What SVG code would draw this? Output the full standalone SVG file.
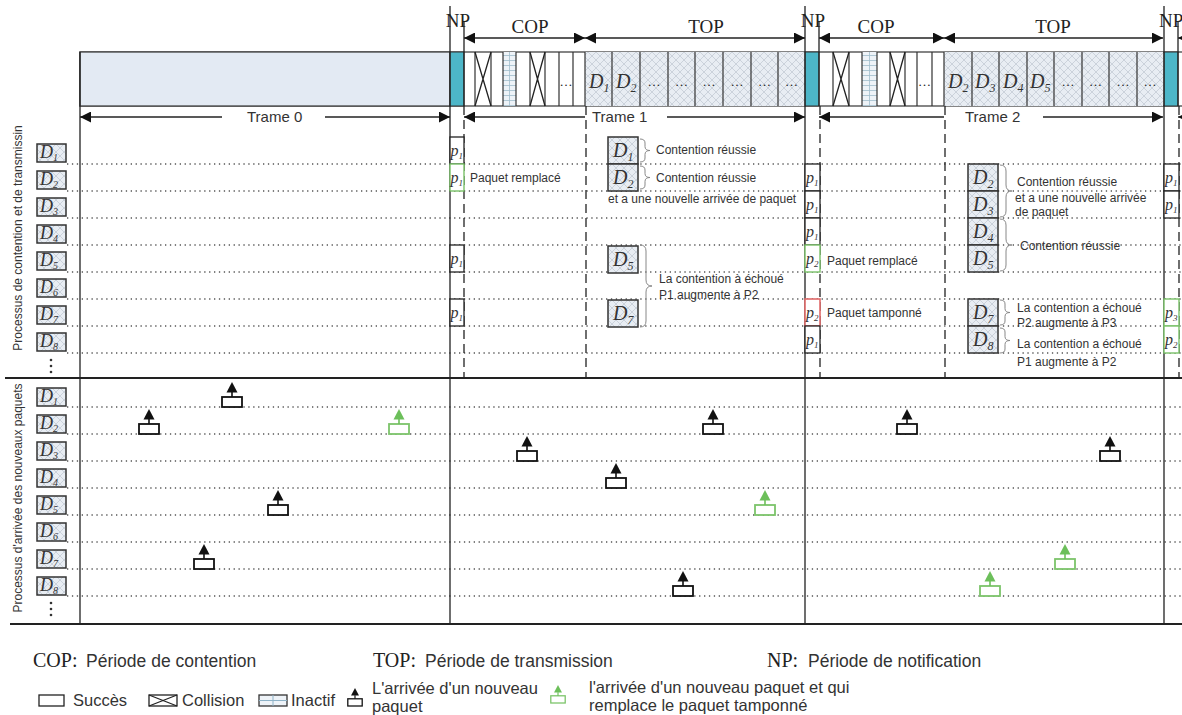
<svg xmlns="http://www.w3.org/2000/svg" xmlns:xlink="http://www.w3.org/1999/xlink" width="1182" height="715" viewBox="0 0 1182 715">
<style>
.dot{stroke:#555;stroke-width:1.3;stroke-dasharray:1.3 3.6;fill:none}
.t{font-family:"Liberation Sans",Arial,sans-serif;font-size:12px;fill:#333}
.lg{font-family:"Liberation Sans",Arial,sans-serif;fill:#333}
.s{font-family:"Liberation Serif","Times New Roman",serif;fill:#222}
.di{font-family:"Liberation Serif","Times New Roman",serif;font-style:italic;fill:#333}
.ln{stroke:#222;stroke-width:1.3;fill:none}
.dv{stroke:#333;stroke-width:1.2}
.dash{stroke:#222;stroke-width:1.3;stroke-dasharray:9 5;fill:none}
.db{fill:url(#xh);stroke:#333;stroke-width:1.5}
.pb{fill:#fff;stroke:#222;stroke-width:1.3}
.pg{fill:#fff;stroke:#79c168;stroke-width:1.4}
.pr{fill:#fff;stroke:#e06a6a;stroke-width:1.6}
.br{fill:none;stroke:#888;stroke-width:1}
.np{fill:#4db6c8;stroke:#333;stroke-width:1}
</style>
<defs>
<pattern id="xh" width="8" height="8" patternUnits="userSpaceOnUse"><rect width="8" height="8" fill="#e8edf3"/><path d="M0 0L8 8M8 0L0 8" stroke="#c4cbd4" stroke-width="0.8"/></pattern>
<pattern id="grid" width="14" height="5" patternUnits="userSpaceOnUse"><rect width="14" height="5" fill="#eef3f8"/><path d="M0 0.5H14" stroke="#9fbccc" stroke-width="0.8"/></pattern>
<marker id="ah" viewBox="0 0 10 10" refX="10" refY="5" markerWidth="11" markerHeight="11" markerUnits="userSpaceOnUse" orient="auto-start-reverse"><path d="M0 0L10 5L0 10z" fill="#111"/></marker>
<g id="ia"><rect x="-10" y="-10" width="20" height="10" fill="#fff" stroke="#111" stroke-width="1.8"/><path d="M0 -10V-15" stroke="#111" stroke-width="1.6"/><path d="M0 -25L5.5 -14.5H-5.5Z" fill="#111"/></g>
<g id="ig"><rect x="-10" y="-10" width="20" height="10" fill="#fff" stroke="#7cc46a" stroke-width="1.8"/><path d="M0 -10V-15" stroke="#6cbf5a" stroke-width="1.6"/><path d="M0 -25L5.5 -14.5H-5.5Z" fill="#6cbf5a"/></g>
</defs>

<rect width="1182" height="715" fill="#fff"/>

<!-- dotted row lines -->
<g id="rows">
<path class="dot" d="M67 164H1182M67 191H1182M67 218H1182M67 245H1182M67 272H1182M67 299H1182M67 326H1182M67 353H1182"/>
<path class="dot" d="M67 407H1182M67 434H1182M67 461H1182M67 488H1182M67 515H1182M67 542H1182M67 569H1182M67 596H1182"/>
</g>

<!-- top bar -->
<g id="bar">
<rect x="80" y="52" width="1110" height="54" fill="#fff" stroke="#444" stroke-width="1.3"/>
<rect x="80" y="52" width="370" height="54" fill="#e3eaf3" stroke="#444" stroke-width="1.3"/>
<rect x="585" y="52" width="220" height="54" fill="url(#xh)"/>
<rect x="944" y="52" width="219" height="54" fill="url(#xh)"/>
<rect x="503" y="52" width="13" height="54" fill="url(#grid)"/>
<rect x="862" y="52" width="15" height="54" fill="url(#grid)"/>
<path d="M509.5 52V106M869.5 52V106" stroke="#9fbccc" stroke-width="0.8"/>
<rect class="np" x="450" y="52" width="14" height="54"/>
<rect class="np" x="805" y="52" width="14" height="54"/>
<rect class="np" x="1164" y="52" width="14" height="54"/>
<path class="dv" d="M475 52V106M491 52V106M503 52V106M516 52V106M530 52V106M545 52V106M559 52V106M573 52V106M585 52V106"/>
<path class="dv" d="M833 52V106M849 52V106M862 52V106M877 52V106M890 52V106M905 52V106M917 52V106M932 52V106M944 52V106"/>
<path class="dv" d="M612 52V106M640 52V106M668 52V106M695 52V106M723 52V106M751 52V106M778 52V106"/>
<path class="dv" d="M972 52V106M999 52V106M1027 52V106M1054 52V106M1082 52V106M1109 52V106M1137 52V106"/>
<path class="ln" d="M475 52L491 106M491 52L475 106M530 52L545 106M545 52L530 106M833 52L849 106M849 52L833 106M890 52L905 106M905 52L890 106"/>
<g class="s" font-size="13" text-anchor="middle">
<text x="566" y="86">…</text><text x="924.5" y="86">…</text>
<text x="654" y="86">…</text><text x="681.5" y="86">…</text><text x="709" y="86">…</text><text x="737" y="86">…</text><text x="764.5" y="86">…</text><text x="791.5" y="86">…</text>
<text x="1068" y="86">…</text><text x="1095.5" y="86">…</text><text x="1123" y="86">…</text><text x="1150" y="86">…</text>
</g>
<g class="di" font-size="20">
<text x="589" y="88">D<tspan font-size="12" dy="4">1</tspan></text>
<text x="616" y="88">D<tspan font-size="12" dy="4">2</tspan></text>
<text x="948" y="88">D<tspan font-size="12" dy="4">2</tspan></text>
<text x="975" y="88">D<tspan font-size="12" dy="4">3</tspan></text>
<text x="1003" y="88">D<tspan font-size="12" dy="4">4</tspan></text>
<text x="1030" y="88">D<tspan font-size="12" dy="4">5</tspan></text>
</g>
</g>

<!-- period labels and arrows -->
<g id="periods">
<g class="s" font-size="19">
<text x="458" y="27" text-anchor="middle">NP</text>
<text x="813" y="27" text-anchor="middle">NP</text>
<text x="1159" y="27">NP</text>
<text x="530" y="33" text-anchor="middle">COP</text>
<text x="706" y="33" text-anchor="middle">TOP</text>
<text x="876" y="33" text-anchor="middle">COP</text>
<text x="1053" y="33" text-anchor="middle">TOP</text>
</g>
<g class="ln" marker-start="url(#ah)" marker-end="url(#ah)">
<path d="M464 38H585"/><path d="M585 38H805"/><path d="M819 38H944"/><path d="M944 38H1163"/>
</g>
<path class="ln" d="M1195 38H1178" marker-end="url(#ah)"/>
<g class="lg" font-size="15" fill="#222">
<text x="247" y="122">Trame 0</text>
<text x="592" y="122">Trame 1</text>
<text x="965" y="122">Trame 2</text>
</g>
<path class="ln" d="M222 117H80" marker-end="url(#ah)"/>
<path class="ln" d="M325 117H450" marker-end="url(#ah)"/>
<path class="ln" d="M585 117H464" marker-end="url(#ah)"/>
<path class="ln" d="M667 117H805" marker-end="url(#ah)"/>
<path class="ln" d="M944 117H819" marker-end="url(#ah)"/>
<path class="ln" d="M1043 117H1163" marker-end="url(#ah)"/>
<path class="ln" d="M1195 117H1178" marker-end="url(#ah)"/>
</g>

<!-- frame lines -->
<g id="frames">
<path class="ln" d="M80 52V624M450 6V624M805 6V624M1164 6V624"/>
<path class="ln" d="M464 22V106M819 22V106M1178 22V106"/>
<path class="dash" d="M464 106V378M820 106V378M1179 106V378M586 106V378M945 106V378"/>
<path d="M5 378H1182" stroke="#222" stroke-width="2"/>
<path d="M10 624H1182" stroke="#222" stroke-width="2"/>
</g>

<!-- side labels -->
<g id="side" class="t">
<text transform="translate(22 238) rotate(-90)" text-anchor="middle">Processus de contention et de transmissin</text>
<text transform="translate(22 498) rotate(-90)" text-anchor="middle">Processus d'arrivée des nouveaux paquets</text>
</g>

<!-- device labels -->
<g id="devices">
<g class="db">
<rect x="37" y="144" width="29" height="18"/><rect x="37" y="171" width="29" height="18"/><rect x="37" y="198" width="29" height="18"/><rect x="37" y="225" width="29" height="18"/>
<rect x="37" y="252" width="29" height="18"/><rect x="37" y="279" width="29" height="18"/><rect x="37" y="306" width="29" height="18"/><rect x="37" y="333" width="29" height="18"/>
<rect x="37" y="388" width="29" height="18"/><rect x="37" y="415" width="29" height="18"/><rect x="37" y="442" width="29" height="18"/><rect x="37" y="469" width="29" height="18"/>
<rect x="37" y="496" width="29" height="18"/><rect x="37" y="523" width="29" height="18"/><rect x="37" y="550" width="29" height="18"/><rect x="37" y="577" width="29" height="18"/>
</g>
<g class="di" font-size="18">
<text x="40" y="158">D<tspan font-size="10" dy="3">1</tspan></text>
<text x="40" y="185">D<tspan font-size="10" dy="3">2</tspan></text>
<text x="40" y="212">D<tspan font-size="10" dy="3">3</tspan></text>
<text x="40" y="239">D<tspan font-size="10" dy="3">4</tspan></text>
<text x="40" y="266">D<tspan font-size="10" dy="3">5</tspan></text>
<text x="40" y="293">D<tspan font-size="10" dy="3">6</tspan></text>
<text x="40" y="320">D<tspan font-size="10" dy="3">7</tspan></text>
<text x="40" y="347">D<tspan font-size="10" dy="3">8</tspan></text>
<text x="40" y="402">D<tspan font-size="10" dy="3">1</tspan></text>
<text x="40" y="429">D<tspan font-size="10" dy="3">2</tspan></text>
<text x="40" y="456">D<tspan font-size="10" dy="3">3</tspan></text>
<text x="40" y="483">D<tspan font-size="10" dy="3">4</tspan></text>
<text x="40" y="510">D<tspan font-size="10" dy="3">5</tspan></text>
<text x="40" y="537">D<tspan font-size="10" dy="3">6</tspan></text>
<text x="40" y="564">D<tspan font-size="10" dy="3">7</tspan></text>
<text x="40" y="591">D<tspan font-size="10" dy="3">8</tspan></text>
</g>
<g fill="#333"><circle cx="51" cy="360" r="1.3"/><circle cx="51" cy="366" r="1.3"/><circle cx="51" cy="372" r="1.3"/><circle cx="51" cy="603" r="1.3"/><circle cx="51" cy="609" r="1.3"/><circle cx="51" cy="615" r="1.3"/></g>
</g>

<!-- NP priority boxes -->
<g id="np1">
<rect class="pb" x="450" y="137" width="14" height="27"/>
<rect class="pg" x="450" y="164" width="14" height="27"/>
<rect class="pb" x="450" y="245" width="14" height="27"/>
<rect class="pb" x="450" y="299" width="14" height="27"/>
<g class="di" font-size="16"><text x="450.5" y="156">p<tspan font-size="9" dy="3">1</tspan></text><text x="450.5" y="183">p<tspan font-size="9" dy="3">1</tspan></text><text x="450.5" y="264">p<tspan font-size="9" dy="3">1</tspan></text><text x="450.5" y="318">p<tspan font-size="9" dy="3">1</tspan></text></g>
<text class="t" x="470" y="182">Paquet remplacé</text>
</g>
<g id="np2">
<rect class="pb" x="805" y="164" width="15" height="27"/>
<rect class="pb" x="805" y="191" width="15" height="27"/>
<rect class="pb" x="805" y="218" width="15" height="27"/>
<rect class="pg" x="805" y="245" width="15" height="27"/>
<rect class="pr" x="805" y="299" width="15" height="27"/>
<rect class="pb" x="805" y="326" width="15" height="27"/>
<g class="di" font-size="16"><text x="806" y="183">p<tspan font-size="9" dy="3">1</tspan></text><text x="806" y="210">p<tspan font-size="9" dy="3">1</tspan></text><text x="806" y="237">p<tspan font-size="9" dy="3">1</tspan></text><text x="806" y="264">p<tspan font-size="9" dy="3">2</tspan></text><text x="806" y="318">p<tspan font-size="9" dy="3">2</tspan></text><text x="806" y="345">p<tspan font-size="9" dy="3">1</tspan></text></g>
<text class="t" x="827" y="265">Paquet remplacé</text>
<text class="t" x="827" y="317">Paquet tamponné</text>
</g>
<g id="np3">
<rect class="pb" x="1164" y="164" width="15" height="27"/>
<rect class="pb" x="1164" y="191" width="15" height="27"/>
<rect class="pg" x="1164" y="299" width="15" height="27"/>
<rect class="pg" x="1164" y="326" width="15" height="27"/>
<g class="di" font-size="16"><text x="1165" y="183">p<tspan font-size="9" dy="3">1</tspan></text><text x="1165" y="210">p<tspan font-size="9" dy="3">1</tspan></text><text x="1165" y="318">p<tspan font-size="9" dy="3">3</tspan></text><text x="1165" y="345">p<tspan font-size="9" dy="3">2</tspan></text></g>
</g>

<!-- TOP frame 1 -->
<g id="top1">
<rect class="db" x="608" y="137" width="30" height="27"/>
<rect class="db" x="608" y="164" width="30" height="27"/>
<rect class="db" x="608" y="246" width="30" height="27"/>
<rect class="db" x="608" y="300" width="30" height="27"/>
<g class="di" font-size="20"><text x="613" y="157">D<tspan font-size="12" dy="4">1</tspan></text><text x="613" y="184">D<tspan font-size="12" dy="4">2</tspan></text><text x="613" y="266">D<tspan font-size="12" dy="4">5</tspan></text><text x="613" y="320">D<tspan font-size="12" dy="4">7</tspan></text></g>
<path class="br" d="M640 139Q645 139 645 143L645 146.5Q645 150.5 650 150.5Q645 150.5 645 154.5L645 158Q645 162 640 162"/>
<path class="br" d="M640 166Q645 166 645 170L645 173.5Q645 177.5 650 177.5Q645 177.5 645 181.5L645 185Q645 189 640 189"/>
<path class="br" d="M640 245Q646 245 646 251L646 280Q646 286 652 286Q646 286 646 292L646 321Q646 327 640 327"/>
<g class="t">
<text x="656" y="154">Contention réussie</text>
<text x="656" y="182">Contention réussie</text>
<text x="608" y="203">et a une nouvelle arrivée de paquet</text>
<text x="659" y="283">La contention à échoué</text>
<text x="659" y="299">P1 augmente à P2</text>
</g>
</g>

<!-- TOP frame 2 -->
<g id="top2">
<rect class="db" x="968" y="164" width="30" height="27"/>
<rect class="db" x="968" y="191" width="30" height="27"/>
<rect class="db" x="968" y="218" width="30" height="27"/>
<rect class="db" x="968" y="245" width="30" height="27"/>
<rect class="db" x="968" y="299" width="30" height="27"/>
<rect class="db" x="968" y="326" width="30" height="27"/>
<g class="di" font-size="20"><text x="973" y="184">D<tspan font-size="12" dy="4">2</tspan></text><text x="973" y="211">D<tspan font-size="12" dy="4">3</tspan></text><text x="973" y="238">D<tspan font-size="12" dy="4">4</tspan></text><text x="973" y="265">D<tspan font-size="12" dy="4">5</tspan></text><text x="973" y="319">D<tspan font-size="12" dy="4">7</tspan></text><text x="973" y="346">D<tspan font-size="12" dy="4">8</tspan></text></g>
<path class="br" d="M1000 165Q1006 165 1006 171L1006 185Q1006 191 1012 191Q1006 191 1006 197L1006 211Q1006 217 1000 217"/>
<path class="br" d="M1000 219Q1006 219 1006 225L1006 239Q1006 245 1012 245Q1006 245 1006 251L1006 265Q1006 271 1000 271"/>
<path class="br" d="M1000 300Q1005 300 1005 304L1005 308.5Q1005 312.5 1010 312.5Q1005 312.5 1005 316.5L1005 321Q1005 325 1000 325"/>
<path class="br" d="M1000 328Q1005 328 1005 332L1005 336.5Q1005 340.5 1010 340.5Q1005 340.5 1005 344.5L1005 349Q1005 353 1000 353"/>
<g class="t">
<text x="1017" y="186">Contention réussie</text>
<text x="1015" y="202">et a une nouvelle arrivée</text>
<text x="1015" y="216">de paquet</text>
<text x="1020" y="250">Contention réussie</text>
<text x="1017" y="312">La contention a échoué</text>
<text x="1017" y="327">P2 augmente à P3</text>
<text x="1017" y="348">La contention a échoué</text>
<text x="1017" y="366">P1 augmente à P2</text>
</g>
</g>

<!-- packet arrivals -->
<g id="arrivals">
<use href="#ia" x="232" y="407"/>
<use href="#ia" x="149" y="434"/>
<use href="#ia" x="278" y="515"/>
<use href="#ia" x="204" y="569"/>
<use href="#ia" x="713" y="434"/>
<use href="#ia" x="527" y="461"/>
<use href="#ia" x="616" y="488"/>
<use href="#ia" x="683" y="596"/>
<use href="#ia" x="907" y="434"/>
<use href="#ia" x="1110" y="461"/>
<use href="#ig" x="399" y="434"/>
<use href="#ig" x="765" y="515"/>
<use href="#ig" x="1065" y="569"/>
<use href="#ig" x="990" y="596"/>
</g>

<!-- legend -->
<g id="legend">
<g class="s" font-size="20" fill="#333">
<text x="33" y="667">COP:</text>
<text x="373" y="667">TOP:</text>
<text x="767" y="667">NP:</text>
</g>
<g class="lg" font-size="17.5">
<text x="86" y="667">Période de contention</text>
<text x="425" y="667">Période de transmission</text>
<text x="808" y="667">Période de notification</text>
</g>
<rect x="39" y="695" width="25" height="11" fill="#fff" stroke="#222" stroke-width="1.3"/>
<rect x="149" y="695" width="28" height="11" fill="#fff" stroke="#222" stroke-width="1.3"/>
<path d="M149 695L177 706M177 695L149 706" stroke="#222" stroke-width="1.2"/>
<rect x="259" y="695" width="28" height="11" fill="#eef3f8" stroke="#333" stroke-width="1.3"/>
<path d="M259 700.5H287M273 695V706" stroke="#8fb3c8" stroke-width="1"/>
<g class="lg" font-size="16.5">
<text x="73" y="706">Succès</text>
<text x="182" y="706">Collision</text>
<text x="291" y="706">Inactif</text>
</g>
<use href="#ia" transform="translate(355 706) scale(0.72)"/>
<use href="#ig" transform="translate(558 703) scale(0.72)"/>
<g class="lg" font-size="16.5">
<text x="372" y="694">L'arrivée d'un nouveau</text>
<text x="372" y="712">paquet</text>
<text x="589" y="693">l'arrivée d'un nouveau paquet et qui</text>
<text x="589" y="711">remplace le paquet tamponné</text>
</g>
</g>
</svg>
